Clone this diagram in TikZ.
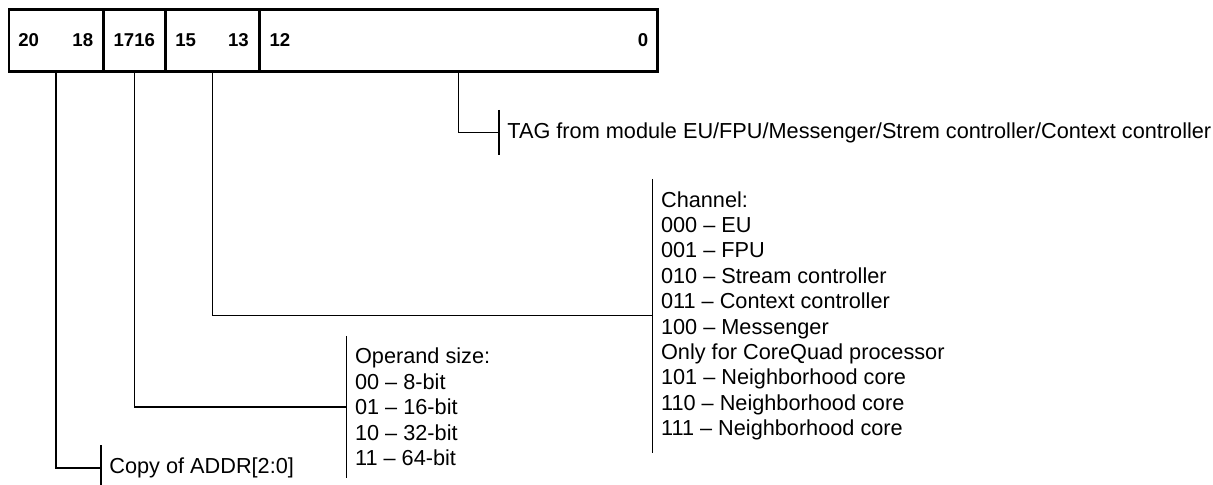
\documentclass[tikz,border=0pt]{standalone}
\usepackage{fontspec}
\setmainfont{Liberation Sans}
\usetikzlibrary{positioning}

\tikzset{
  field/.style={draw, line width=0.7pt, minimum height=30.5pt, inner sep=0pt, anchor=west},
  bitno/.style={font=\fontsize{9.3}{11}\selectfont\bfseries, inner sep=0pt},
  desc/.style={anchor=west, align=left, inner xsep=4pt, inner ysep=6pt,
    font=\fontsize{10.85}{12.7}\selectfont},
  wire/.style={line width=0.6pt}
}

\begin{document}
\begin{tikzpicture}[x=0.5pt,y=-0.5pt]
\useasboundingbox (0,0) rectangle (1213,485);
% register fields
\node[field, minimum width=46.35pt] (f20) at (9,40.5) {};
\node[field, minimum width=30.5pt, right=0pt of f20] (f17) {};
\node[field, minimum width=46.15pt, right=0pt of f17] (f15) {};
\node[field, minimum width=198.5pt, right=0pt of f15] (f12) {};
\draw[line width=1.1pt] (f20.north west) rectangle (f12.south east);
% bit numbers
\node[bitno, anchor=west] (b20) at ([xshift=4.5pt]f20.west) {20};
\node[bitno, anchor=east] (b18) at ([xshift=-4.8pt]f20.east) {18};
\node[bitno] (b17) at (f17) {1716};
\node[bitno, anchor=west] (b15) at ([xshift=4.7pt]f15.west) {15};
\node[bitno, anchor=east] (b13) at ([xshift=-5pt]f15.east) {13};
\node[bitno, anchor=west] (b12) at ([xshift=5pt]f12.west) {12};
\node[bitno, anchor=east] (b0) at ([xshift=-4.5pt]f12.east) {0};
% descriptions
\node[desc] (copy) at (101,468) {Copy of ADDR[2:0]};
\node[desc] (size) at (346.7,407) {Operand size:\\00 – 8-bit\\01 – 16-bit\\10 – 32-bit\\11 – 64-bit};
\node[desc] (chan) at (652.7,315.7) {Channel:\\000 – EU\\001 – FPU\\010 – Stream controller\\011 – Context controller\\100 – Messenger\\Only for CoreQuad processor\\101 – Neighborhood core\\110 – Neighborhood core\\111 – Neighborhood core};
\node[desc] (tag) at (499,132.5) {TAG from module EU/FPU/Messenger/Strem controller/Context controller};
\foreach \n in {copy,size,chan,tag}
  \draw[wire] (\n.north west) -- (\n.south west);
\foreach \f/\n in {f20/copy,f17/size,f15/chan,f12/tag}
  \draw[wire] (\f.south) |- (\n.west);
\end{tikzpicture}
\end{document}
